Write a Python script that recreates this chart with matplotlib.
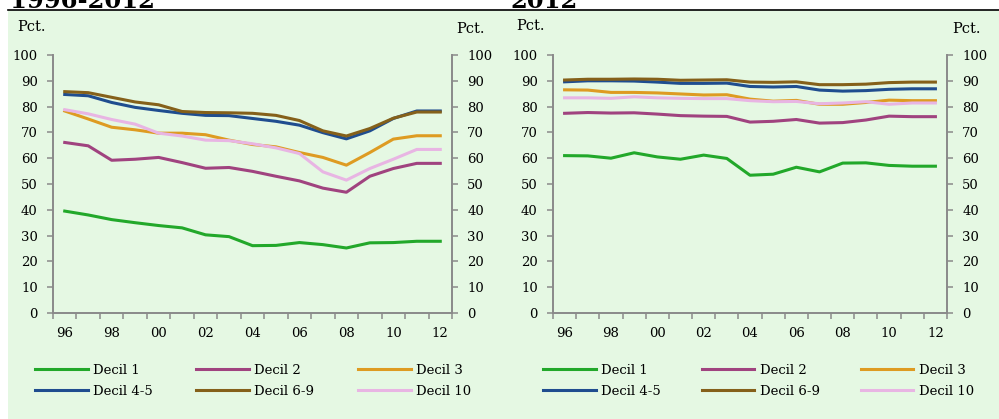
import matplotlib
matplotlib.use("Agg")
import matplotlib.pyplot as plt
from matplotlib.patches import Rectangle
from matplotlib.lines import Line2D
import numpy as np

plt.rcParams['font.family'] = ['DejaVu Serif']

years = list(range(1996, 2013))
tick_labels = ["96", "98", "00", "02", "04", "06", "08", "10", "12"]
names = ["Decil 1", "Decil 2", "Decil 3", "Decil 4-5", "Decil 6-9", "Decil 10"]
colors = ["#22A82A", "#A0437F", "#DE9B22", "#1F4D8F", "#85601A", "#E8B5E3"]

# left panel: 1996-2012
d1_a = [39.5, 38.0, 36.2, 35.0, 33.9, 33.0, 30.3, 29.6, 26.1, 26.2, 27.3, 26.5, 25.2, 27.2, 27.3, 27.8, 27.8]
d2_a = [66.1, 64.8, 59.2, 59.6, 60.3, 58.3, 56.1, 56.4, 54.9, 53.0, 51.2, 48.4, 46.8, 53.0, 56.0, 58.0, 58.0]
d3_a = [78.3, 75.2, 72.0, 71.0, 69.7, 69.7, 69.1, 67.0, 65.3, 64.4, 62.2, 60.3, 57.3, 62.2, 67.4, 68.7, 68.7]
d45_a = [84.7, 84.2, 81.6, 79.7, 78.5, 77.4, 76.6, 76.5, 75.4, 74.3, 72.8, 69.9, 67.5, 70.6, 75.4, 78.3, 78.3]
d69_a = [85.8, 85.4, 83.6, 81.8, 80.7, 78.1, 77.7, 77.6, 77.4, 76.6, 74.6, 70.6, 68.6, 71.5, 75.5, 77.9, 77.9]
d10_a = [78.8, 77.2, 75.0, 73.2, 69.7, 68.6, 67.0, 66.8, 65.6, 64.0, 61.8, 54.7, 51.5, 56.0, 59.6, 63.4, 63.4]

# right panel: 2012
d1_b = [61.0, 60.9, 60.0, 62.1, 60.5, 59.6, 61.2, 59.9, 53.4, 53.8, 56.5, 54.7, 58.1, 58.2, 57.2, 56.9, 56.9]
d2_b = [77.4, 77.7, 77.5, 77.6, 77.1, 76.5, 76.3, 76.2, 74.0, 74.3, 75.0, 73.6, 73.8, 74.8, 76.3, 76.1, 76.1]
d3_b = [86.5, 86.4, 85.5, 85.5, 85.3, 84.9, 84.5, 84.6, 82.9, 82.1, 82.4, 80.9, 80.9, 81.6, 82.5, 82.3, 82.3]
d45_b = [89.6, 90.0, 90.0, 89.9, 89.5, 89.0, 89.0, 89.1, 87.8, 87.6, 87.8, 86.4, 86.0, 86.2, 86.7, 86.9, 86.9]
d69_b = [90.3, 90.6, 90.6, 90.7, 90.6, 90.2, 90.3, 90.4, 89.5, 89.4, 89.6, 88.5, 88.5, 88.7, 89.3, 89.5, 89.5]
d10_b = [83.4, 83.4, 83.2, 83.8, 83.4, 83.2, 83.1, 83.1, 82.3, 81.9, 82.0, 81.1, 81.4, 81.9, 80.9, 81.4, 81.4]

W, H = 999, 419
fig = plt.figure(figsize=(W / 100, H / 100), dpi=100)

bg = "#E5F8E3"
fig.patches.append(Rectangle((8 / W, 0), 1, 1 - 10.5 / H, transform=fig.transFigure,
                             facecolor=bg, edgecolor="none", zorder=-5))
fig.lines.append(Line2D([8 / W, 1], [1 - 10.5 / H] * 2, transform=fig.transFigure,
                        color="black", lw=1.2, zorder=-4))

# panel titles (cut off at the top edge, as in the source)
fig.text(10 / W, 1 - 7.5 / H, "1996-2012", fontsize=17.5, fontweight="bold", va="baseline")
fig.text(510 / W, 1 - 7.5 / H, "2012", fontsize=17.5, fontweight="bold", va="baseline")

grey = "#8A8A8A"


def panel(left_px, right_px, series, leg_x, colsp):
    ax = fig.add_axes([left_px / W, 1 - 313 / H, (right_px - left_px) / W, (313 - 55) / H])
    ax.set_facecolor("none")
    x = np.arange(len(years))
    handles = []
    for vals, c, n in zip(series, colors, names):
        h, = ax.plot(x, vals, color=c, lw=2.2, label=n, solid_joinstyle="round")
        handles.append(h)
    ax.set_xlim(-0.5, len(years) - 0.5)
    ax.set_ylim(0, 100)
    ax.set_yticks(np.arange(0, 101, 10))
    ax.set_xticks(x[::2])
    ax.set_xticklabels(tick_labels)
    ax.set_xticks(np.arange(-0.5, len(years)), minor=True)
    ax.tick_params(axis="x", which="major", length=0, pad=10, labelsize=9.5)
    ax.tick_params(axis="x", which="minor", length=4, width=1.1, color=grey, direction="out")
    ax.tick_params(axis="y", length=4, width=1.1, color=grey, direction="out",
                   left=True, right=True, labelleft=True, labelright=True, pad=7, labelsize=9.5)
    for s in ["left", "right", "bottom"]:
        ax.spines[s].set_color(grey)
        ax.spines[s].set_linewidth(1.4)
    ax.spines["top"].set_visible(False)
    # legend reads row-wise: Decil 1, 2, 3 / 4-5, 6-9, 10
    order = [0, 3, 1, 4, 2, 5]
    ax.legend([handles[i] for i in order], [names[i] for i in order], ncol=3,
              loc="center left", bbox_to_anchor=(leg_x / W, 1 - 381 / H),
              bbox_transform=fig.transFigure, frameon=False, borderpad=0,
              borderaxespad=0, handlelength=4.0, handletextpad=0.4,
              columnspacing=colsp, labelspacing=0.6, fontsize=9.5)
    return ax


panel(53, 452, [d1_a, d2_a, d3_a, d45_a, d69_a, d10_a], 35, 3.3)
panel(553, 947, [d1_b, d2_b, d3_b, d45_b, d69_b, d10_b], 543, 3.1)

for xp, yp in [(17, 27), (456, 29), (516, 26), (952, 29)]:
    fig.text(xp / W, 1 - yp / H, "Pct.", fontsize=10.5, va="center", ha="left")

fig.savefig("out.png", dpi=100)
